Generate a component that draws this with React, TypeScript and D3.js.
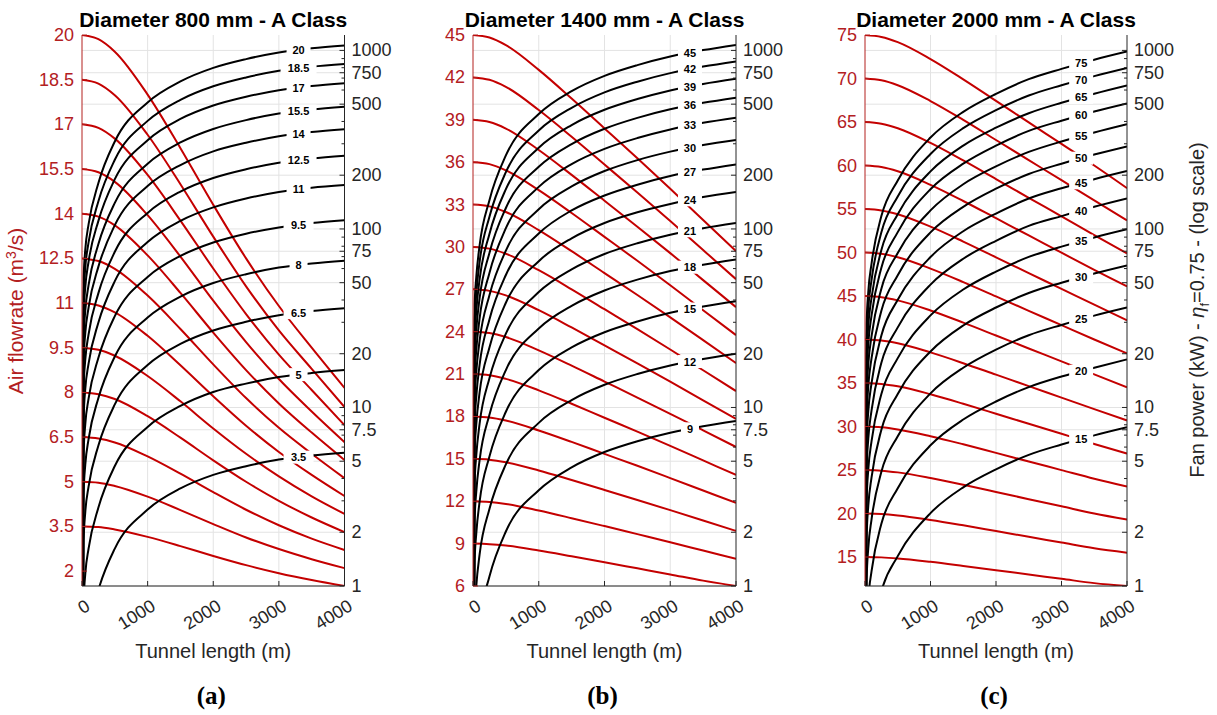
import * as d3 from "d3";

const lengthTicks = [0, 1000, 2000, 3000, 4000];
const redL = [0, 250, 500, 1000, 1500, 2000, 2500, 3000, 3500, 4000];
const blackL = [1, 25, 50, 100, 250, 500, 1000, 1500, 2000, 2500, 3000, 3500, 4000];
const powerTicks = [1, 2, 5, 7.5, 10, 20, 50, 75, 100, 200, 500, 750, 1000];
const powerMinor = [3, 4, 6, 7, 8, 9, 30, 40, 60, 70, 80, 90, 300, 400, 600, 700, 800, 900];

// ---- (a) 800 mm
const flowA = [20, 18.5, 17, 15.5, 14, 12.5, 11, 9.5, 8, 6.5, 5, 3.5];
const flowTicksA = [2, 3.5, 5, 6.5, 8, 9.5, 11, 12.5, 14, 15.5, 17, 18.5, 20];
const redA = [
  [20, 19.86, 19.44, 18.0, 16.2, 14.3, 12.5, 10.9, 9.5, 8.15],
  [18.5, 18.37, 17.98, 16.65, 14.99, 13.23, 11.56, 10.08, 8.79, 7.51],
  [17, 16.88, 16.52, 15.3, 13.77, 12.16, 10.63, 9.27, 8.08, 6.9],
  [15.5, 15.39, 15.07, 13.95, 12.56, 11.08, 9.69, 8.45, 7.36, 6.33],
  [14, 13.9, 13.61, 12.6, 11.34, 10.01, 8.75, 7.63, 6.65, 5.73],
  [12.5, 12.41, 12.15, 11.25, 10.13, 8.94, 7.81, 6.81, 5.94, 5.12],
  [11, 10.92, 10.69, 9.9, 8.91, 7.87, 6.88, 6.0, 5.23, 4.52],
  [9.5, 9.43, 9.23, 8.55, 7.7, 6.79, 5.94, 5.18, 4.51, 3.92],
  [8, 7.94, 7.78, 7.2, 6.48, 5.72, 5.0, 4.36, 3.8, 3.31],
  [6.5, 6.45, 6.32, 5.85, 5.27, 4.65, 4.06, 3.54, 3.09, 2.71],
  [5, 4.97, 4.86, 4.5, 4.05, 3.58, 3.13, 2.74, 2.4, 2.1],
  [3.5, 3.48, 3.4, 3.15, 2.84, 2.51, 2.2, 1.93, 1.7, 1.5],
];
const powerA = [
  [0.85, 53.2, 76.6, 106, 181, 309, 511, 670, 798, 894, 974, 1027, 1064],
  [0.67, 42, 60.5, 84, 143, 244, 403, 529, 630, 706, 769, 811, 840],
  [0.52, 32.8, 47.2, 65.5, 111, 190, 314, 413, 491, 550, 599, 632, 655],
  [0.39, 24.2, 34.8, 48.4, 82.3, 140, 232, 305, 363, 407, 443, 467, 484],
  [0.29, 18.1, 26.1, 36.2, 61.5, 105, 174, 228, 272, 304, 331, 349, 362],
  [0.21, 12.9, 18.5, 25.7, 43.7, 74.5, 123, 162, 193, 216, 235, 248, 257],
  [0.14, 8.8, 12.7, 17.6, 29.9, 51, 84.5, 111, 132, 148, 161, 170, 176],
  [0.09, 5.6, 8.06, 11.2, 19, 32.5, 53.8, 70.6, 84, 94.1, 102, 108, 112],
  [0.05, 3.32, 4.78, 6.64, 11.3, 19.3, 31.9, 41.8, 49.8, 55.8, 60.8, 64.1, 66.4],
  [0.03, 1.8, 2.59, 3.6, 6.12, 10.4, 17.3, 22.7, 27, 30.2, 32.9, 34.7, 36],
  [0.01, 0.81, 1.17, 1.62, 2.75, 4.7, 7.78, 10.2, 12.2, 13.6, 14.8, 15.6, 16.2],
  [0.005, 0.28, 0.4, 0.56, 0.95, 1.62, 2.68, 3.52, 4.19, 4.69, 5.11, 5.38, 5.58],
];

// ---- (b) 1400 mm
const flowB = [45, 42, 39, 36, 33, 30, 27, 24, 21, 18, 15, 12, 9];
const flowTicksB = [6, 9, 12, 15, 18, 21, 24, 27, 30, 33, 36, 39, 42, 45];
const redB = [
  [45, 44.82, 44.28, 42.53, 40.5, 38.39, 36.27, 34.11, 31.91, 29.7],
  [42, 41.83, 41.33, 39.69, 37.8, 35.83, 33.85, 31.84, 29.78, 27.72],
  [39, 38.84, 38.38, 36.86, 35.1, 33.27, 31.43, 29.56, 27.65, 25.74],
  [36, 35.86, 35.42, 34.02, 32.4, 30.71, 29.02, 27.29, 25.52, 23.76],
  [33, 32.87, 32.47, 31.19, 29.7, 28.15, 26.6, 25.01, 23.4, 21.78],
  [30, 29.88, 29.52, 28.35, 27, 25.59, 24.18, 22.74, 21.27, 19.8],
  [27, 26.89, 26.57, 25.52, 24.3, 23.03, 21.76, 20.47, 19.14, 17.82],
  [24, 23.9, 23.62, 22.68, 21.6, 20.47, 19.34, 18.19, 17.02, 15.84],
  [21, 20.92, 20.66, 19.85, 18.9, 17.91, 16.93, 15.92, 14.89, 13.86],
  [18, 17.93, 17.71, 17.01, 16.2, 15.35, 14.51, 13.64, 12.76, 11.88],
  [15, 14.94, 14.76, 14.18, 13.5, 12.8, 12.09, 11.37, 10.64, 9.9],
  [12, 11.95, 11.81, 11.34, 10.8, 10.24, 9.67, 9.1, 8.51, 7.92],
  [9, 8.96, 8.86, 8.51, 8.1, 7.68, 7.25, 6.82, 6.38, 6.0],
];
const powerB = [
  [0.86, 37.6, 53.7, 80.6, 145, 258, 440, 591, 720, 827, 924, 1004, 1074],
  [0.69, 30.4, 43.4, 65.1, 117, 208, 356, 477, 582, 668, 746, 812, 868],
  [0.56, 24.3, 34.7, 52.1, 93.7, 167, 285, 382, 465, 534, 597, 649, 694],
  [0.44, 19, 27.2, 40.8, 73.4, 131, 223, 299, 364, 419, 468, 509, 544],
  [0.34, 14.7, 21, 31.5, 56.7, 101, 172, 231, 281, 323, 361, 393, 420],
  [0.25, 11, 15.8, 23.6, 42.5, 75.6, 129, 173, 211, 243, 271, 295, 315],
  [0.18, 8.05, 11.5, 17.3, 31.1, 55.2, 94.3, 127, 154, 177, 198, 215, 230],
  [0.13, 5.64, 8.05, 12.1, 21.7, 38.6, 66, 88.6, 108, 124, 138, 151, 161],
  [0.09, 3.78, 5.4, 8.1, 14.6, 25.9, 44.3, 59.4, 72.4, 83.2, 92.9, 101, 108],
  [0.05, 2.36, 3.38, 5.06, 9.11, 16.2, 27.7, 37.1, 45.2, 52, 58.1, 63.1, 67.5],
  [0.03, 1.38, 1.97, 2.96, 5.32, 9.46, 16.2, 21.7, 26.4, 30.3, 33.9, 36.8, 39.4],
  [0.02, 0.7, 1.0, 1.5, 2.7, 4.8, 8.2, 11, 13.4, 15.4, 17.2, 18.7, 20],
  [0.01, 0.29, 0.42, 0.63, 1.13, 2.02, 3.44, 4.62, 5.63, 6.47, 7.22, 7.85, 8.4],
];

// ---- (c) 2000 mm
const flowC = [75, 70, 65, 60, 55, 50, 45, 40, 35, 30, 25, 20, 15];
const flowTicksC = [15, 20, 25, 30, 35, 40, 45, 50, 55, 60, 65, 70, 75];
const redC = [
  [75, 74.78, 74.18, 72.23, 69.9, 67.43, 64.95, 62.48, 60, 57.4],
  [70, 69.79, 69.23, 67.41, 65.24, 62.93, 60.62, 58.31, 56, 53.7],
  [65, 64.81, 64.29, 62.6, 60.58, 58.44, 56.29, 54.15, 52, 49.9],
  [60, 59.82, 59.34, 57.78, 55.92, 53.94, 51.96, 49.98, 48, 46.1],
  [55, 54.84, 54.4, 52.97, 51.26, 49.45, 47.63, 45.82, 44, 42.2],
  [50, 49.85, 49.45, 48.15, 46.6, 44.95, 43.3, 41.65, 40, 38.4],
  [45, 44.87, 44.5, 43.34, 41.94, 40.46, 38.97, 37.49, 36, 34.5],
  [40, 39.88, 39.56, 38.52, 37.28, 35.96, 34.64, 33.32, 32, 30.7],
  [35, 34.9, 34.62, 33.71, 32.62, 31.47, 30.31, 29.16, 28, 26.9],
  [30, 29.91, 29.67, 28.89, 27.96, 26.97, 25.98, 24.99, 24, 23.1],
  [25, 24.93, 24.73, 24.08, 23.3, 22.48, 21.65, 20.83, 20, 19.3],
  [20, 19.94, 19.78, 19.26, 18.64, 17.98, 17.32, 16.66, 16, 15.5],
  [15, 14.96, 14.84, 14.45, 13.98, 13.49, 12.99, 12.5, 12, 11.67],
];
const powerC = [
  [0.79, 29.6, 44.3, 64, 118, 187, 325, 453, 571, 690, 788, 887, 985],
  [0.64, 23.9, 35.9, 51.9, 95.8, 152, 263, 367, 463, 559, 638, 718, 798],
  [0.51, 19.1, 28.6, 41.3, 76.3, 121, 210, 293, 369, 445, 509, 572, 636],
  [0.4, 15.2, 22.7, 32.8, 60.6, 96, 167, 232, 293, 354, 404, 455, 505],
  [0.31, 11.6, 17.4, 25.1, 46.3, 73.3, 127, 178, 224, 270, 309, 347, 386],
  [0.23, 8.7, 13.1, 18.9, 34.8, 55.1, 95.7, 133, 168, 203, 232, 261, 290],
  [0.17, 6.33, 9.5, 13.7, 25.3, 40.1, 69.6, 97.1, 122, 148, 169, 190, 211],
  [0.12, 4.44, 6.66, 9.62, 17.8, 28.1, 48.8, 68.1, 85.8, 104, 118, 133, 148],
  [0.08, 2.99, 4.48, 6.47, 11.9, 18.9, 32.8, 45.8, 57.7, 69.7, 79.6, 89.6, 99.5],
  [0.05, 1.88, 2.81, 4.06, 7.5, 11.9, 20.6, 28.8, 36.3, 43.8, 50, 56.3, 62.5],
  [0.03, 1.09, 1.63, 2.36, 4.36, 6.9, 12, 16.7, 21.1, 25.4, 29, 32.7, 36.3],
  [0.015, 0.56, 0.84, 1.21, 2.23, 3.53, 6.14, 8.56, 10.8, 13, 14.9, 16.7, 18.6],
  [0.006, 0.23, 0.35, 0.5, 0.93, 1.47, 2.56, 3.57, 4.5, 5.43, 6.2, 6.98, 7.75],
];

const FONT = "'Liberation Sans', Arial, Helvetica, sans-serif";
const RED_LINE = "#c40000";
const RED_TEXT = "#b3201f";
const AXIS = "#262626";
const GRID = "#e3e3e3";
const TOP = 35;
const BOTTOM = 586;
const LABEL_L = 3300;

type PanelProps = {
  id: string;
  title: string;
  letter: string;
  x0: number;
  x1: number;
  yMin: number;
  flows: number[];
  flowTicks: number[];
  red: number[][];
  power: number[][];
};

const Panel = ({ id, title, letter, x0, x1, yMin, flows, flowTicks, red, power }: PanelProps) => {
  const yMax = flows[0];
  const xScale = d3.scaleLinear().domain([0, 4000]).range([x0, x1]);
  const yScale = d3.scaleLinear().domain([yMin, yMax]).range([BOTTOM, TOP]);
  const pScale = d3.scaleLog().domain([1, 1220]).range([BOTTOM, TOP]);

  const redLine = d3
    .line<number>()
    .x((_, i) => xScale(redL[i]))
    .y((d) => yScale(d))
    .curve(d3.curveMonotoneX);
  const blackLine = d3
    .line<number>()
    .x((_, i) => xScale(blackL[i]))
    .y((d) => pScale(d))
    .curve(d3.curveMonotoneX);

  const cx = (x0 + x1) / 2;
  const k = blackL.indexOf(3000);
  const t = (LABEL_L - 3000) / 500;

  return (
    <g>
      <defs>
        <clipPath id={`clip-${id}`}>
          <rect x={x0} y={TOP} width={x1 - x0} height={BOTTOM - TOP} />
        </clipPath>
      </defs>

      {/* grid */}
      {lengthTicks.slice(1, -1).map((v) => (
        <line key={`gx${v}`} x1={xScale(v)} x2={xScale(v)} y1={TOP} y2={BOTTOM} stroke={GRID} />
      ))}
      {powerTicks.map((v) => (
        <line key={`gy${v}`} x1={x0} x2={x1} y1={pScale(v)} y2={pScale(v)} stroke={GRID} />
      ))}

      <g clipPath={`url(#clip-${id})`}>
        {red.map((s, i) => (
          <path key={`r${i}`} d={redLine(s) ?? ""} fill="none" stroke={RED_LINE} strokeWidth={2} />
        ))}
        {power.map((s, i) => (
          <path key={`b${i}`} d={blackLine(s) ?? ""} fill="none" stroke="#000" strokeWidth={2} />
        ))}
      </g>

      {/* inline labels */}
      {power.map((s, i) => {
        const lp = Math.log10(s[k]) * (1 - t) + Math.log10(s[k + 1]) * t;
        const lx = xScale(LABEL_L);
        const ly = pScale(Math.pow(10, lp));
        const txt = String(flows[i]);
        const w = txt.length * 6 + 12;
        return (
          <g key={`l${i}`}>
            <rect x={lx - w / 2} y={ly - 6.5} width={w} height={13} fill="#fff" />
            <text
              x={lx}
              y={ly}
              textAnchor="middle"
              dominantBaseline="central"
              fontFamily={FONT}
              fontWeight="bold"
              fontSize={11}
              fill="#000"
            >
              {txt}
            </text>
          </g>
        );
      })}

      {/* axes */}
      <line x1={x0} x2={x0} y1={TOP} y2={BOTTOM} stroke={RED_TEXT} strokeWidth={1} />
      <line x1={x1} x2={x1} y1={TOP} y2={BOTTOM} stroke={AXIS} strokeWidth={1} />
      <line x1={x0} x2={x1} y1={BOTTOM} y2={BOTTOM} stroke={AXIS} strokeWidth={1} />

      {flowTicks.map((v) => (
        <g key={`fy${v}`}>
          <line x1={x0} x2={x0 + 5} y1={yScale(v)} y2={yScale(v)} stroke={RED_TEXT} />
          <text
            x={x0 - 8}
            y={yScale(v)}
            textAnchor="end"
            dominantBaseline="central"
            fontFamily={FONT}
            fontSize={18}
            fill={RED_TEXT}
          >
            {v}
          </text>
        </g>
      ))}

      {powerTicks.map((v) => (
        <g key={`py${v}`}>
          <line x1={x1 - 5} x2={x1} y1={pScale(v)} y2={pScale(v)} stroke={AXIS} />
          <text
            x={x1 + 7}
            y={pScale(v)}
            dominantBaseline="central"
            fontFamily={FONT}
            fontSize={18}
            fill={AXIS}
          >
            {v}
          </text>
        </g>
      ))}
      {powerMinor.map((v) => (
        <line key={`pm${v}`} x1={x1 - 3} x2={x1} y1={pScale(v)} y2={pScale(v)} stroke={AXIS} />
      ))}

      {lengthTicks.map((v) => (
        <g key={`lx${v}`}>
          <line x1={xScale(v)} x2={xScale(v)} y1={BOTTOM} y2={BOTTOM - 5} stroke={AXIS} />
          <text
            transform={`translate(${xScale(v) + 6},${BOTTOM + 18}) rotate(-32)`}
            textAnchor="end"
            dominantBaseline="central"
            fontFamily={FONT}
            fontSize={18}
            fill={AXIS}
          >
            {v}
          </text>
        </g>
      ))}

      <text x={cx} y={27} textAnchor="middle" fontFamily={FONT} fontWeight="bold" fontSize={21} fill="#000">
        {title}
      </text>
      <text x={cx} y={658} textAnchor="middle" fontFamily={FONT} fontSize={20} fill={AXIS}>
        Tunnel length (m)
      </text>
      <text
        x={cx - 2}
        y={704}
        textAnchor="middle"
        fontFamily="'Liberation Serif', 'Times New Roman', serif"
        fontWeight="bold"
        fontSize={25}
        fill="#000"
      >
        {letter}
      </text>
    </g>
  );
};

export default function App() {
  return (
    <svg width={1217} height={715} style={{ display: "block", position: "absolute", left: 0, top: 0, background: "#fff" }}>
      <rect width={1217} height={715} fill="#fff" />
      <Panel id="a" title="Diameter 800 mm - A Class" letter="(a)" x0={82} x1={344.5} yMin={1.5}
        flows={flowA} flowTicks={flowTicksA} red={redA} power={powerA} />
      <Panel id="b" title="Diameter 1400 mm - A Class" letter="(b)" x0={473} x1={736} yMin={6}
        flows={flowB} flowTicks={flowTicksB} red={redB} power={powerB} />
      <Panel id="c" title="Diameter 2000 mm - A Class" letter="(c)" x0={865} x1={1127} yMin={11.67}
        flows={flowC} flowTicks={flowTicksC} red={redC} power={powerC} />

      <text
        transform="translate(23,311) rotate(-90)"
        textAnchor="middle"
        fontFamily={FONT}
        fontSize={21}
        fill={RED_TEXT}
      >
        Air flowrate (m<tspan dy={-7} fontSize={14}>3</tspan><tspan dy={7}>/s)</tspan>
      </text>
      <text
        transform="translate(1204,310) rotate(-90)"
        textAnchor="middle"
        fontFamily={FONT}
        fontSize={20}
        fill={AXIS}
      >
        Fan power (kW) - <tspan fontStyle="italic">η</tspan>
        <tspan dy={5} fontSize={13}>f</tspan>
        <tspan dy={-5}>=0.75 - (log scale)</tspan>
      </text>
    </svg>
  );
}
